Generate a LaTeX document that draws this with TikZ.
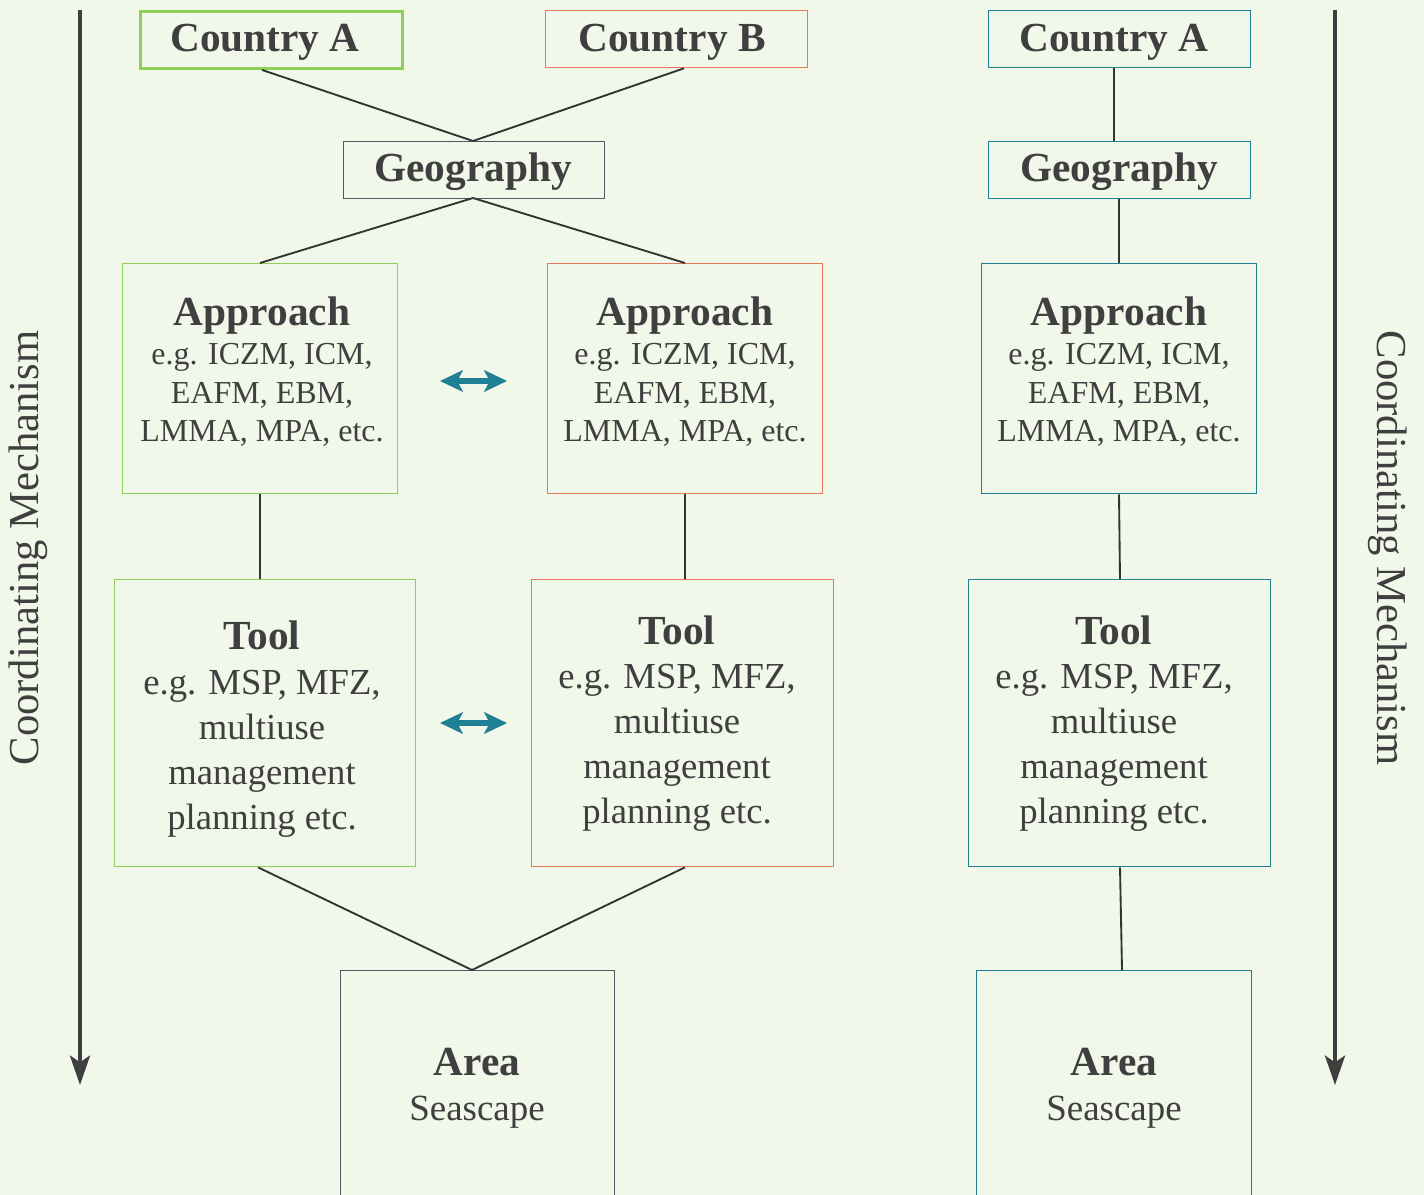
\documentclass[tikz,border=0pt]{standalone}
\usepackage{fontspec}
\setmainfont{Liberation Serif}
\usetikzlibrary{arrows.meta}
\definecolor{bg}{HTML}{F1F7E9}
\definecolor{txt}{HTML}{3F3F3F}
\definecolor{cgreen}{HTML}{8DCF57}
\definecolor{cred}{HTML}{E5795A}
\definecolor{cteal}{HTML}{1F7F94}
\definecolor{cslate}{HTML}{4D5A66}
\definecolor{ln}{HTML}{333333}
\begin{document}
\begin{tikzpicture}[x=0.75pt,y=-0.75pt,
  box/.style={draw, line width=1pt, inner sep=0pt, anchor=north west},
  ttl/.style={text=txt, font=\fontsize{31}{36}\selectfont\bfseries, inner sep=0pt, yshift=-4*0.75pt},
  ttlflat/.style={text=txt, font=\fontsize{31}{36}\selectfont\bfseries, inner sep=0pt},
  apbody/.style={text=txt, align=center, inner sep=0pt, font=\fontsize{24}{28.9}\selectfont, yshift=-4*0.75pt},
  tlbody/.style={text=txt, align=center, inner sep=0pt, font=\fontsize{27.5}{33.75}\selectfont, yshift=-4*0.75pt},
  sea/.style={text=txt, inner sep=0pt, font=\fontsize{27.7}{33}\selectfont, yshift=-4*0.75pt},
  side/.style={text=txt, inner sep=0pt, font=\fontsize{32}{38}\selectfont},
  conn/.style={draw=ln, line width=1.4pt},
  dbl/.style={cteal, line width=4pt, {Stealth[length=17pt,width=16pt,inset=4pt]}-{Stealth[length=17pt,width=16pt,inset=4pt]}},
  mech/.style={draw=txt, line width=3.2pt, -{Stealth[length=22pt,width=15pt,inset=5pt]}}
]
\fill[bg] (0,0) rectangle (1424,1195);
\useasboundingbox (0,0) rectangle (1424,1195);

% ---------- boxes ----------
\node[box, draw=cgreen, line width=2.2pt, minimum width=262*0.75pt, minimum height=57*0.75pt] (ca) at (139,10) {};
\node[box, draw=cred, minimum width=262*0.75pt, minimum height=57*0.75pt] (cb) at (545,10) {};
\node[box, draw=cslate, minimum width=261*0.75pt, minimum height=57*0.75pt] (geo) at (343,141) {};
\node[box, draw=cgreen, minimum width=275*0.75pt, minimum height=230*0.75pt] (apa) at (122,263) {};
\node[box, draw=cred, minimum width=275*0.75pt, minimum height=230*0.75pt] (apb) at (547,263) {};
\node[box, draw=cgreen, minimum width=301*0.75pt, minimum height=287*0.75pt] (tla) at (114,579) {};
\node[box, draw=cred, minimum width=302*0.75pt, minimum height=287*0.75pt] (tlb) at (531,579) {};
\node[box, draw=cslate, minimum width=274*0.75pt, minimum height=250*0.75pt] (ara) at (340,970) {};

\node[box, draw=cteal, minimum width=262*0.75pt, minimum height=57*0.75pt] (rca) at (988,10) {};
\node[box, draw=cteal, minimum width=262*0.75pt, minimum height=57*0.75pt] (rgeo) at (988,141) {};
\node[box, draw=cteal, minimum width=275*0.75pt, minimum height=230*0.75pt] (rap) at (981,263) {};
\node[box, draw=cteal, minimum width=302*0.75pt, minimum height=287*0.75pt] (rtl) at (968,579) {};
\node[box, draw=cteal, minimum width=275*0.75pt, minimum height=250*0.75pt] (rar) at (976,970) {};

% ---------- texts ----------
\node[ttl] at (265,38) {Country A};
\node[ttl] at (672,38) {Country B};
\node[ttl] at (1114,38) {Country A};
\node[ttl] at (473,168) {Geography};
\node[ttl] at (1119,168) {Geography};

\node[ttl] at (262,312) {Approach};
\node[apbody] at (262,391) {e.g. ICZM, ICM,\\EAFM, EBM,\\LMMA, MPA, etc.};
\node[ttl] at (685,312) {Approach};
\node[apbody] at (685,391) {e.g. ICZM, ICM,\\EAFM, EBM,\\LMMA, MPA, etc.};
\node[ttl] at (1119,312) {Approach};
\node[apbody] at (1119,391) {e.g. ICZM, ICM,\\EAFM, EBM,\\LMMA, MPA, etc.};

\node[ttlflat] at (262,635) {Tool};
\node[tlbody] at (262,750) {e.g. MSP, MFZ,\\multiuse\\management\\planning etc.};
\node[ttlflat] at (677,630) {Tool};
\node[tlbody] at (677,744) {e.g. MSP, MFZ,\\multiuse\\management\\planning etc.};
\node[ttlflat] at (1114,630) {Tool};
\node[tlbody] at (1114,744) {e.g. MSP, MFZ,\\multiuse\\management\\planning etc.};

\node[ttlflat] at (477,1062) {Area};
\node[sea] at (477,1108) {Seascape};
\node[ttlflat] at (1114,1062) {Area};
\node[sea] at (1114,1108) {Seascape};

% ---------- connectors ----------
\coordinate (gtop) at (473,141);
\coordinate (gbot) at (473,198);
\coordinate (atop) at (472,970);
\draw[conn] (ca.south -| 262,0) -- (gtop);
\draw[conn] (cb.south -| 684,0) -- (gtop);
\draw[conn] (gbot) -- (apa.north -| 260,0);
\draw[conn] (gbot) -- (apb.north -| 685,0);
\draw[conn] (apa.south -| 260,0) -- (tla.north -| 260,0);
\draw[conn] (apb.south -| 685,0) -- (tlb.north -| 685,0);
\draw[conn] (tla.south -| 258,0) -- (atop);
\draw[conn] (tlb.south -| 685,0) -- (atop);

\draw[conn] (rca.south -| 1114,0) -- (rgeo.north -| 1114,0);
\draw[conn] (rgeo.south -| 1119,0) -- (rap.north -| 1119,0);
\draw[conn] (rap.south -| 1119,0) -- (rtl.north -| 1120,0);
\draw[conn] (rtl.south -| 1120,0) -- (rar.north -| 1122,0);

% ---------- double arrows ----------
\coordinate (d1a) at (440,381); \coordinate (d1b) at (507,381);
\coordinate (d2a) at (440,723); \coordinate (d2b) at (507,723);
\draw[dbl] (d1a) -- (d1b);
\draw[dbl] (d2a) -- (d2b);

% ---------- coordinating mechanism ----------
\coordinate (m1s) at (80,10); \coordinate (m1e) at (80,1085);
\coordinate (m2s) at (1335,10); \coordinate (m2e) at (1335,1085);
\draw[mech] (m1s) -- (m1e);
\draw[mech] (m2s) -- (m2e);
\node[side, rotate=90] at (28,548) {Coordinating Mechanism};
\node[side, rotate=-90] at (1388,548) {Coordinating Mechanism};
\end{tikzpicture}
\end{document}
